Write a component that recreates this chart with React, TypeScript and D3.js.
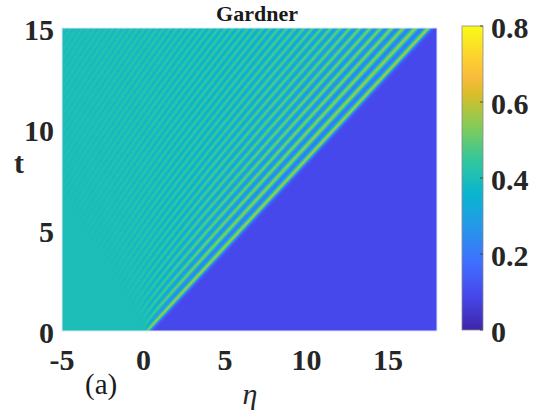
import React, { useMemo } from "react";
import * as d3 from "d3";

const W = 540;
const H = 416;

// Axes domains and ticks
const etaDomain: [number, number] = [-5, 18];
const tDomain: [number, number] = [0, 15];
const cDomain: [number, number] = [0, 0.8];
const etaTicks = [-5, 0, 5, 10, 15];
const tTicks = [0, 5, 10, 15];
const cTicks = [0, 0.2, 0.4, 0.6, 0.8];
const cTickLabels = ["0", "0.2", "0.4", "0.6", "0.8"];

// Step levels
const upstreamLevel = 0.4;
const downstreamLevel = 0.09;

// Leading edge of the shock: eta = edgeOffset + edgeSpeed * t
const edgeOffset = 0.2;
const edgeSpeed = 1.153;
const edgeWidth = 0.16;

// Modulation read along similarity variable s = (eta - edgeOffset) / t
const sNodes = [-0.8, -0.4, 0, 0.43, 0.7, 0.95, 1.08, 1.153];
const wavelengthNodes = [0.35, 0.36, 0.39, 0.46, 0.55, 0.65, 0.75, 0.85];
const amplitudeNodes = [0.004, 0.012, 0.03, 0.065, 0.1, 0.15, 0.18, 0.2];
const meanNodes = [0.4, 0.4, 0.4, 0.395, 0.39, 0.38, 0.375, 0.375];

// Parula colour map stops (fraction of colour range)
const parulaPos = [0, 1 / 9, 2 / 9, 3 / 9, 4 / 9, 5 / 9, 6 / 9, 7 / 9, 0.833, 8 / 9, 1];
const parulaCol = [
  "#3e26a8", "#4747eb", "#3e6fff", "#2796eb", "#08b5d0", "#31c69f",
  "#81cc59", "#dcbd29", "#fabb3d", "#fccf30", "#f9fb15",
];

const FONT = "'Liberation Serif', 'Times New Roman', serif";

const plot = { x0: 62, x1: 437, y0: 28, y1: 331 };
const cbar = { x0: 462, x1: 483, y0: 26, y1: 330 };

export default function App() {
  const xScale = d3.scaleLinear().domain(etaDomain).range([plot.x0, plot.x1]);
  const yScale = d3.scaleLinear().domain(tDomain).range([plot.y1, plot.y0]);
  const cScale = d3.scaleLinear().domain(cDomain).range([cbar.y1, cbar.y0]);
  const colorFrac = d3
    .scaleLinear<string>()
    .domain(parulaPos)
    .range(parulaCol)
    .interpolate(d3.interpolateRgb)
    .clamp(true);
  const color = (v: number) => colorFrac((v - cDomain[0]) / (cDomain[1] - cDomain[0]));

  const url = useMemo(() => {
    const wl = d3.scaleLinear().domain(sNodes).range(wavelengthNodes).clamp(true);
    const amp = d3.scaleLinear().domain(sNodes).range(amplitudeNodes).clamp(true);
    const mean = d3.scaleLinear().domain(sNodes).range(meanNodes).clamp(true);
    // phase integral K(s) = int_s^{s+} 2pi/lambda
    const sLo = sNodes[0];
    const sHi = edgeSpeed;
    const N = 4000;
    const ds = (sHi - sLo) / N;
    const Ktab = new Float64Array(N + 1);
    Ktab[N] = 0;
    for (let i = N - 1; i >= 0; i--) {
      const sm = sLo + (i + 0.5) * ds;
      Ktab[i] = Ktab[i + 1] + (2 * Math.PI / wl(sm)) * ds;
    }
    const k0 = (2 * Math.PI) / wavelengthNodes[0];
    const K = (s: number) => {
      if (s <= sLo) return Ktab[0] + (sLo - s) * k0;
      if (s >= sHi) return 0;
      const f = (s - sLo) / ds;
      const i = Math.floor(f);
      const r = f - i;
      return Ktab[i] * (1 - r) + Ktab[Math.min(N, i + 1)] * r;
    };
    const peak = mean(sHi) + amp(sHi);
    const field = (eta: number, t: number) => {
      const edge = edgeOffset + edgeSpeed * t;
      if (eta >= edge) {
        const d = (eta - edge) / edgeWidth;
        const sech = 1 / Math.cosh(d);
        return downstreamLevel + (peak - downstreamLevel) * sech * sech;
      }
      const s = (eta - edgeOffset) / t;
      const theta = s <= sLo ? t * Ktab[0] + (sLo * t - (eta - edgeOffset)) * k0 : t * K(s);
      const a = amp(s);
      const m = s <= sLo ? upstreamLevel : mean(s);
      return m + a * Math.cos(theta);
    };

    const w = plot.x1 - plot.x0;
    const h = plot.y1 - plot.y0;
    const canvas = document.createElement("canvas");
    canvas.width = w;
    canvas.height = h;
    const ctx = canvas.getContext("2d")!;
    const img = ctx.createImageData(w, h);
    const offs = [0.25, 0.75];
    for (let j = 0; j < h; j++) {
      for (let i = 0; i < w; i++) {
        let r = 0, g = 0, b = 0;
        for (const oy of offs) {
          for (const ox of offs) {
            const eta = xScale.invert(plot.x0 + i + ox);
            const t = yScale.invert(plot.y0 + j + oy);
            const c = d3.rgb(color(field(eta, Math.max(t, 1e-4))));
            r += c.r; g += c.g; b += c.b;
          }
        }
        const p = (j * w + i) * 4;
        img.data[p] = r / 4;
        img.data[p + 1] = g / 4;
        img.data[p + 2] = b / 4;
        img.data[p + 3] = 255;
      }
    }
    ctx.putImageData(img, 0, 0);
    return canvas.toDataURL();
  }, []);

  const gradStops = d3.range(0, 1.0001, 0.02);

  return (
    <svg
      width={W}
      height={H}
      viewBox={`0 0 ${W} ${H}`}
      style={{ position: "absolute", left: 0, top: 0, display: "block", background: "#fff" }}
    >
      <defs>
        <linearGradient id="cbgrad" x1="0" y1="1" x2="0" y2="0">
          {gradStops.map((f, i) => (
            <stop key={i} offset={f} stopColor={colorFrac(f)} />
          ))}
        </linearGradient>
      </defs>
      <image
        href={url}
        x={plot.x0}
        y={plot.y0}
        width={plot.x1 - plot.x0}
        height={plot.y1 - plot.y0}
        preserveAspectRatio="none"
      />
      <rect
        x={plot.x0}
        y={plot.y0}
        width={plot.x1 - plot.x0}
        height={plot.y1 - plot.y0}
        fill="none"
        stroke="#dfe3f7"
        strokeWidth={1}
      />
      {/* title */}
      <text x={257} y={21} textAnchor="middle" fontFamily={FONT} fontWeight="bold" fontSize={22} fill="#1a1a1a">
        Gardner
      </text>
      {/* x ticks */}
      {etaTicks.map((v) => (
        <text key={v} x={xScale(v)} y={370} textAnchor="middle" fontFamily={FONT} fontWeight="bold" fontSize={30} fill="#262626">
          {v}
        </text>
      ))}
      {/* y ticks */}
      {tTicks.map((v) => (
        <text key={v} x={54} y={yScale(v) + 12} textAnchor="end" fontFamily={FONT} fontWeight="bold" fontSize={30} fill="#262626">
          {v}
        </text>
      ))}
      <text x={19} y={173} textAnchor="middle" fontFamily={FONT} fontWeight="bold" fontSize={30} fill="#262626">
        t
      </text>
      <text x={250} y={404} textAnchor="middle" fontFamily={FONT} fontStyle="italic" fontSize={30} fill="#262626">
        η
      </text>
      <text x={85} y={394} fontFamily={FONT} fontSize={29} fill="#1a1a1a">
        (a)
      </text>
      {/* colorbar */}
      <rect
        x={cbar.x0}
        y={cbar.y0}
        width={cbar.x1 - cbar.x0}
        height={cbar.y1 - cbar.y0}
        fill="url(#cbgrad)"
        stroke="#8a8a8a"
        strokeWidth={0.8}
      />
      {cTicks.map((v, i) => (
        <g key={v}>
          <line x1={cbar.x1 - 3} x2={cbar.x1} y1={cScale(v)} y2={cScale(v)} stroke="#333" strokeWidth={0.8} />
          <text x={491} y={cScale(v) + 12} fontFamily={FONT} fontWeight="bold" fontSize={30} fill="#262626">
            {cTickLabels[i]}
          </text>
        </g>
      ))}
    </svg>
  );
}
